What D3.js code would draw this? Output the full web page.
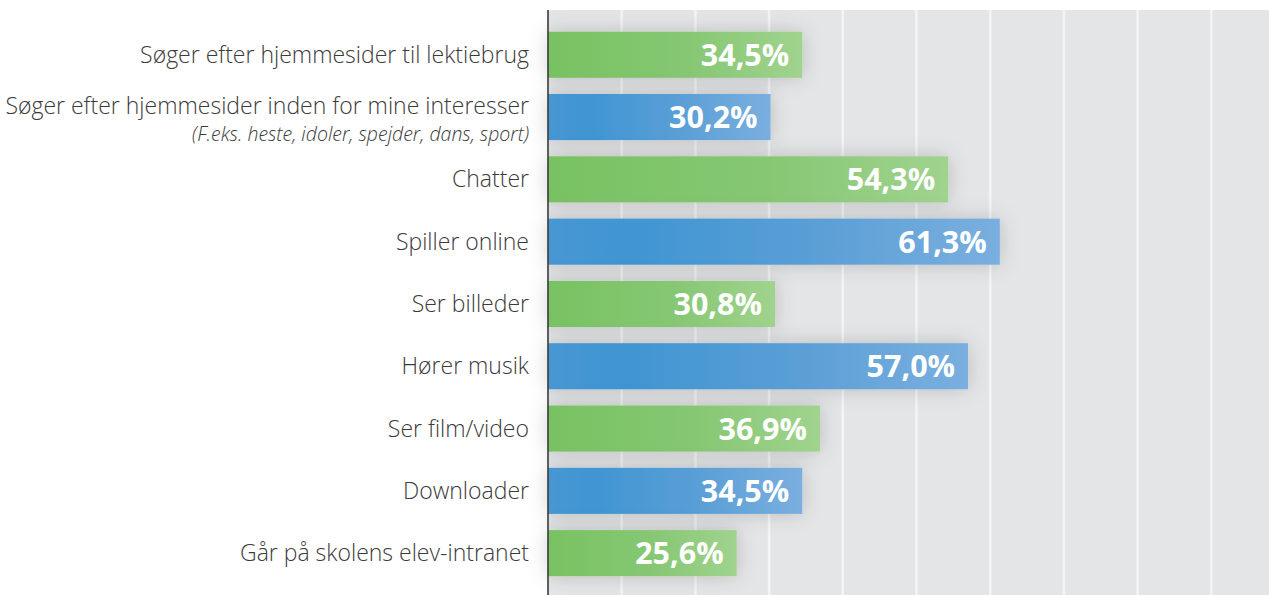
<!DOCTYPE html>
<html>
<head>
<meta charset="utf-8">
<script src="https://cdn.jsdelivr.net/npm/d3@7"></script>
<style>
  body { margin: 0; background: #fff; }
  svg { display: block; }
</style>
</head>
<body>
<script>
// data
const categories = [
  "Søger efter hjemmesider til lektiebrug",
  "Søger efter hjemmesider inden for mine interesser",
  "Chatter",
  "Spiller online",
  "Ser billeder",
  "Hører musik",
  "Ser film/video",
  "Downloader",
  "Går på skolens elev-intranet"
]
const subtitles = ["", "(F.eks. heste, idoler, spejder, dans, sport)", "", "", "", "", "", "", ""]
const values = [34.5, 30.2, 54.3, 61.3, 30.8, 57.0, 36.9, 34.5, 25.6]
const gridTicks = [10, 20, 30, 40, 50, 60, 70, 80, 90]

const W = 1269, H = 595
const plotLeft = 548, plotTop = 10

const svg = d3.select('body').append('svg')
  .attr('width', W)
  .attr('height', H)

const x = d3.scaleLinear().domain([0, 100]).range([plotLeft, 1285])
const y = d3.scaleBand().domain(d3.range(categories.length))
  .range([23.6, 584.3])
  .paddingInner(0.26)
  .paddingOuter(0.13)

const defs = svg.append('defs')

// bar gradients
const gGreen = defs.append('linearGradient').attr('id', 'gGreen')
gGreen.append('stop').attr('offset', '0%').attr('stop-color', '#78c262')
gGreen.append('stop').attr('offset', '55%').attr('stop-color', '#86c773')
gGreen.append('stop').attr('offset', '100%').attr('stop-color', '#a0d38e')

const gBlue = defs.append('linearGradient').attr('id', 'gBlue')
gBlue.append('stop').attr('offset', '0%').attr('stop-color', '#4797d3')
gBlue.append('stop').attr('offset', '18%').attr('stop-color', '#3f95d2')
gBlue.append('stop').attr('offset', '60%').attr('stop-color', '#5b9fd6')
gBlue.append('stop').attr('offset', '100%').attr('stop-color', '#7aafdf')

const shadow = defs.append('filter').attr('id', 'shadow')
  .attr('x', '-20%').attr('y', '-60%').attr('width', '140%').attr('height', '220%')
shadow.append('feDropShadow')
  .attr('dx', 0).attr('dy', 0)
  .attr('stdDeviation', 10)
  .attr('flood-color', '#000')
  .attr('flood-opacity', 0.18)

// plot background
svg.append('rect')
  .attr('x', plotLeft).attr('y', plotTop)
  .attr('width', W - plotLeft).attr('height', H - plotTop)
  .attr('fill', '#e4e5e7')

// gridlines
svg.append('g').selectAll('line')
  .data(gridTicks)
  .join('line')
  .attr('x1', d => x(d)).attr('x2', d => x(d))
  .attr('y1', plotTop).attr('y2', H)
  .attr('stroke', '#f4f4f5')
  .attr('stroke-width', 2.5)

// bars
svg.append('g').selectAll('rect')
  .data(values)
  .join('rect')
  .attr('x', x(0))
  .attr('y', (d, i) => y(i))
  .attr('width', d => x(d) - x(0))
  .attr('height', y.bandwidth())
  .attr('fill', (d, i) => i % 2 ? 'url(#gBlue)' : 'url(#gGreen)')
  .attr('filter', 'url(#shadow)')

// value labels
svg.append('g').selectAll('text')
  .data(values)
  .join('text')
  .attr('x', d => x(d) - 13)
  .attr('y', (d, i) => y(i) + y.bandwidth() / 2)
  .attr('dy', '0.36em')
  .attr('text-anchor', 'end')
  .attr('fill', '#fff')
  .style('font-family', '"Open Sans", sans-serif')
  .style('font-weight', 700)
  .style('font-size', '30.5px')
  .text(d => d3.format('.1f')(d).replace('.', ',') + '%')

// y axis line
svg.append('line')
  .attr('x1', plotLeft).attr('x2', plotLeft)
  .attr('y1', plotTop).attr('y2', H)
  .attr('stroke', '#3a3a3a')
  .attr('stroke-width', 1.6)

// category labels
const lab = svg.append('g')
lab.selectAll('text.cat')
  .data(categories)
  .join('text')
  .attr('class', 'cat')
  .attr('x', 529)
  .attr('y', (d, i) => y(i) + y.bandwidth() / 2 + (subtitles[i] ? -11 : 0))
  .attr('dy', '0.35em')
  .attr('text-anchor', 'end')
  .attr('fill', '#3a3a3a')
  .style('font-family', '"Open Sans", sans-serif')
  .style('font-weight', 300)
  .style('font-size', '23px')
  .text(d => d)

lab.selectAll('text.sub')
  .data(subtitles.map((s, i) => ({ s, i })).filter(d => d.s))
  .join('text')
  .attr('class', 'sub')
  .attr('x', 529)
  .attr('y', d => y(d.i) + y.bandwidth() / 2 + 17)
  .attr('dy', '0.35em')
  .attr('text-anchor', 'end')
  .attr('fill', '#3a3a3a')
  .style('font-family', '"Open Sans", sans-serif')
  .style('font-weight', 300)
  .style('font-style', 'italic')
  .style('font-size', '19.5px')
  .text(d => d.s)
</script>
</body>
</html>
